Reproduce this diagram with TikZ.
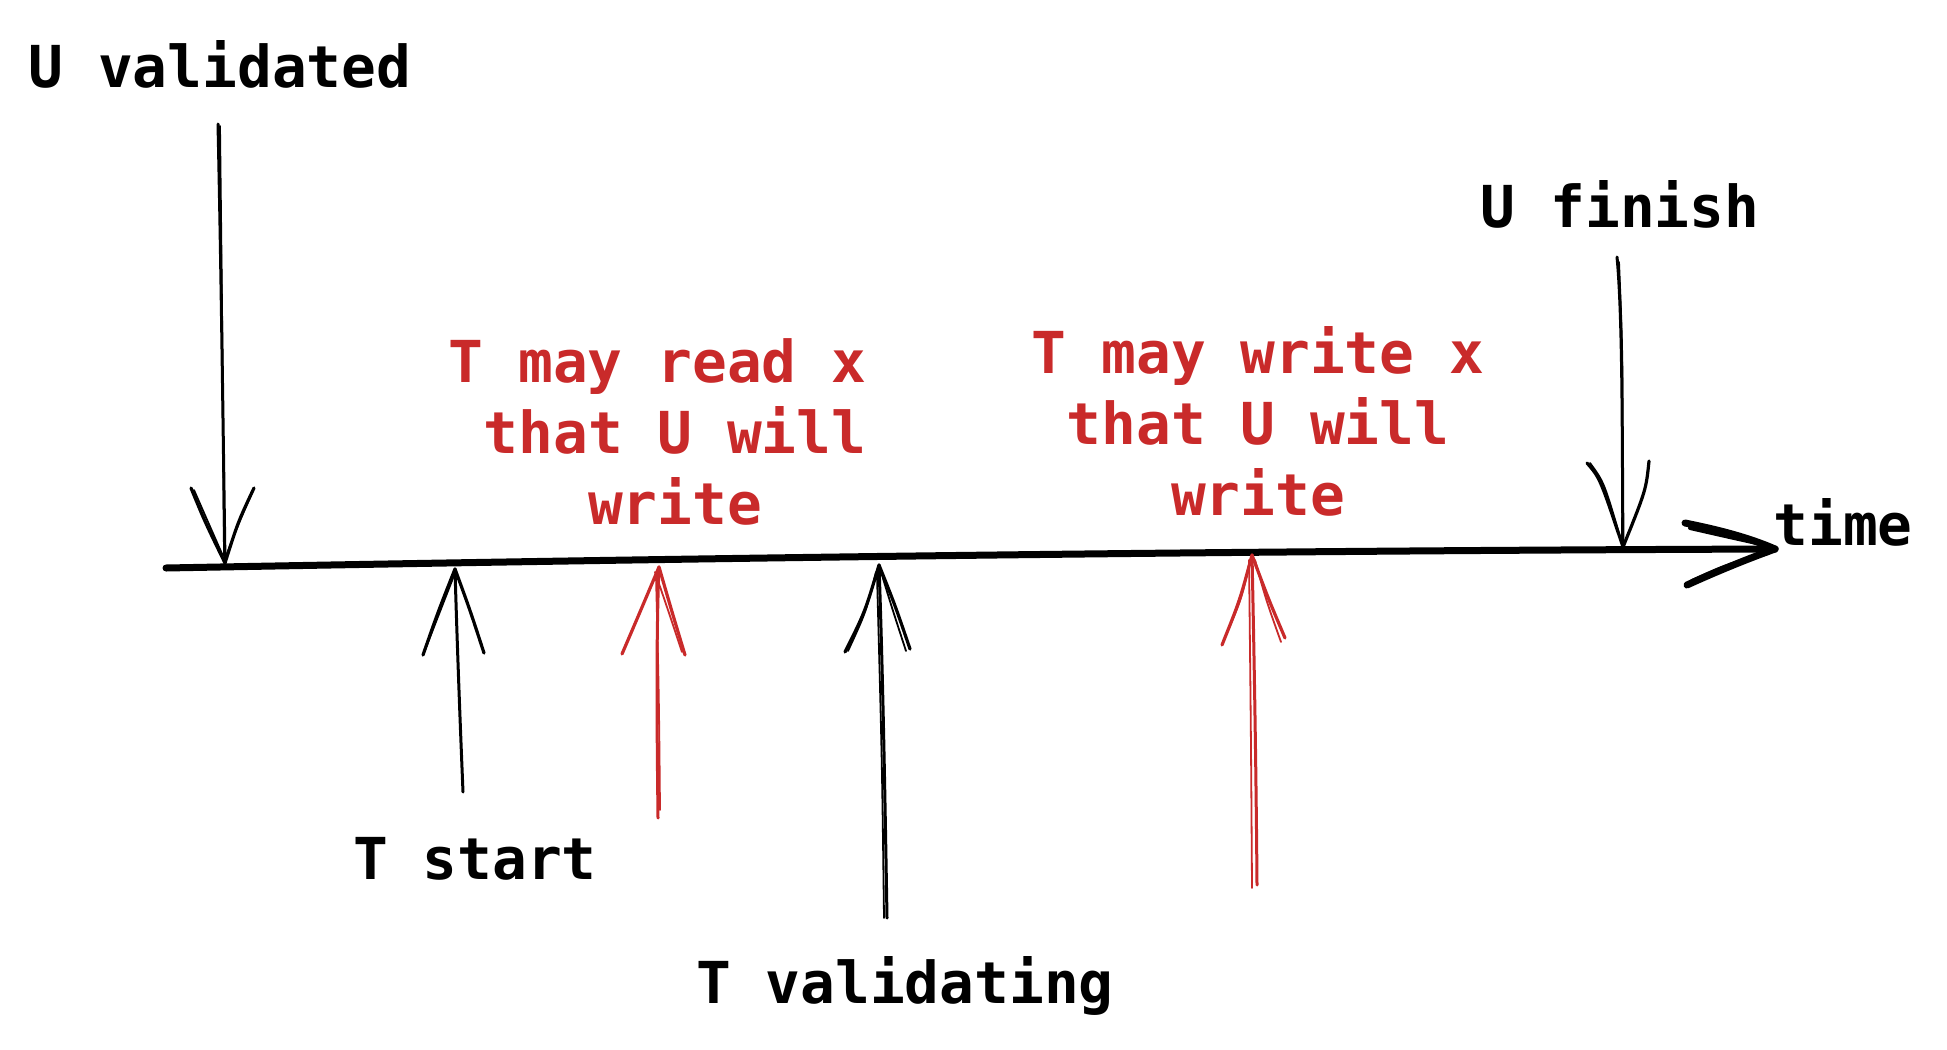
\documentclass[tikz,border=0pt]{standalone}
\usepackage{fontspec}
\newfontfamily\codefont{DejaVu Sans Mono}
\definecolor{xred}{RGB}{201,42,42}
\tikzset{
  lbl/.style={font=\codefont\bfseries\fontsize{28.9pt}{35.5pt}\selectfont, inner sep=0pt, text=black},
  redlbl/.style={lbl, text=xred, align=center},
  axisline/.style={line width=3.5pt, line cap=round, line join=round},
  shaft/.style={line width=1.5pt, line cap=round},
  shaftb/.style={line width=0.9pt, line cap=round},
  wing/.style={line width=1.6pt, line cap=round},
}
\begin{document}
\begin{tikzpicture}[x=0.5pt,y=-0.5pt]
\useasboundingbox (0,0) rectangle (1947,1049);
\fill[white] (0,0) rectangle (1947,1049);

% labels
\node[lbl, anchor=base] (uval) at (220,87) {U validated};
\node[lbl, anchor=base] (tstart) at (475,879) {T start};
\node[lbl, anchor=base] (tvalid) at (905,1003) {T validating};
\node[lbl, anchor=base] (ufin) at (1620,227) {U finish};
\node[lbl, anchor=base] (time) at (1843,545) {time};
\node[redlbl, anchor=base] (rread) at (675,524) {T may read x\hphantom{x}\\that U will\\write};
\node[redlbl, anchor=base] (rwrite) at (1258,515) {T may write x\\that U will\\write};

% axis
\coordinate (a0) at (166,568);
\coordinate (a1) at (1775,549);
\coordinate (tw1) at (1685,523);
\coordinate (tw2) at (1687,585);
\draw[axisline] (a0) .. controls (700,558) and (1200,551) .. (a1);
\draw[axisline] (tw1) .. controls (1720,530) and (1750,538) .. (a1);
\draw[axisline] (tw2) .. controls (1720,570) and (1750,558) .. (a1);
\draw[line width=2pt, line cap=round] (1690,528) .. controls (1725,536) .. (1770,546);
\draw[line width=2pt, line cap=round] (1692,581) .. controls (1725,566) .. (1768,553);

% U validated arrow (down)
\coordinate (uv0) at (218,124);
\coordinate (uvt) at (225,563);
\draw[shaft] (uv0) .. controls (221,260) and (223,420) .. (uvt);
\draw[shaftb] (220,126) .. controls (222,300) .. (224,555);
\draw[wing] (191,488) .. controls (205,522) .. (uvt);
\draw[wing] (254,488) .. controls (238,522) .. (uvt);
\draw[shaftb] (194,490) .. controls (208,522) .. (223,556);
\draw[shaftb] (252,493) .. controls (238,525) .. (226,556);

% T start arrow (up)
\coordinate (ts0) at (463,792);
\coordinate (tst) at (455,569);
\draw[shaft] (ts0) .. controls (460,720) and (457,640) .. (tst);
\draw[wing] (423,655) .. controls (438,612) .. (tst);
\draw[wing] (484,653) .. controls (470,610) .. (tst);
\draw[shaftb] (425,650) -- (455,573);

% red arrow 1 (up)
\coordinate (r10) at (658,818);
\coordinate (r1t) at (659,567);
\draw[shaft, xred] (r10) .. controls (657,730) and (656,640) .. (r1t);
\draw[shaftb, xred] (660,810) .. controls (659,700) .. (656,575);
\draw[wing, xred] (622,654) .. controls (640,612) .. (r1t);
\draw[wing, xred] (685,655) .. controls (672,612) .. (r1t);
\draw[shaftb, xred] (682,652) .. controls (668,610) .. (655,572);

% T validating arrow (up)
\coordinate (tv0) at (887,918);
\coordinate (tvt) at (879,565);
\draw[shaft] (tv0) .. controls (885,800) and (883,680) .. (tvt);
\draw[shaftb] (884,918) .. controls (882,760) .. (877,575);
\draw[wing] (845,652) .. controls (865,612) .. (tvt);
\draw[wing] (910,649) .. controls (895,605) .. (tvt);
\draw[shaftb] (848,651) .. controls (866,612) .. (876,572);
\draw[shaftb] (906,651) .. controls (892,608) .. (881,572);

% red arrow 2 (up)
\coordinate (r20) at (1257,885);
\coordinate (r2t) at (1252,555);
\draw[shaft, xred] (r20) .. controls (1256,760) and (1254,650) .. (r2t);
\draw[shaftb, xred] (1252,888) .. controls (1251,740) .. (1249,560);
\draw[wing, xred] (1222,645) .. controls (1240,600) .. (r2t);
\draw[wing, xred] (1285,638) .. controls (1268,598) .. (r2t);
\draw[shaftb, xred] (1224,640) .. controls (1242,598) .. (1250,560);
\draw[shaftb, xred] (1281,642) .. controls (1266,600) .. (1255,560);

% U finish arrow (down)
\coordinate (uf0) at (1617,257);
\coordinate (uft) at (1623,547);
\draw[shaft] (uf0) .. controls (1623,320) and (1622,450) .. (uft);
\draw[shaftb] (1619,262) .. controls (1623,360) .. (1622,540);
\draw[wing] (1587,463) .. controls (1600,478) .. (uft);
\draw[wing] (1649,461) .. controls (1646,490) .. (uft);
\draw[shaftb] (1590,463) .. controls (1604,482) .. (1621,540);
\end{tikzpicture}
\end{document}
